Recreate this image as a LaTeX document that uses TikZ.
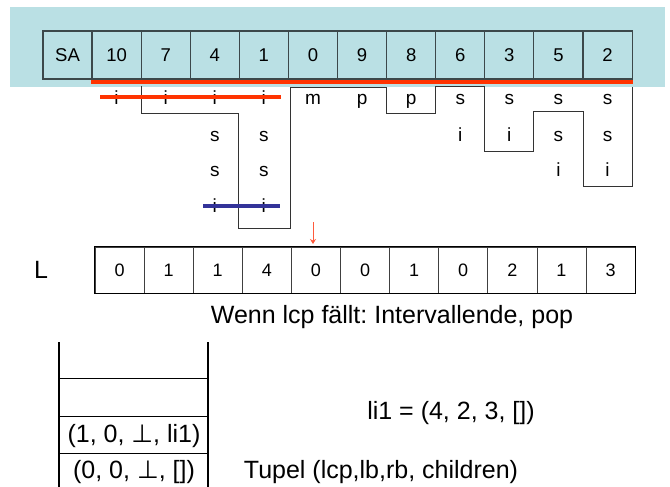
\documentclass[tikz,border=0pt]{standalone}
\usepackage{fontspec}
\setmainfont{Liberation Sans}
\newfontfamily\symfont{DejaVu Sans}
\usetikzlibrary{arrows.meta}
\frenchspacing
\definecolor{panel}{RGB}{186,224,228}
\definecolor{cellline}{RGB}{60,72,74}
\definecolor{hired}{RGB}{255,51,0}
\definecolor{hiblue}{RGB}{51,51,153}
\definecolor{arrowred}{RGB}{255,90,60}
\tikzset{
  sacell/.style={draw=cellline, line width=1.1pt, fill=panel, minimum width=49.1pt,
    minimum height=48pt, inner sep=0pt, font=\fontsize{18.5}{20}\selectfont},
  lcell/.style={draw=black!75, line width=0.8pt, minimum width=49.1pt,
    minimum height=46pt, inner sep=0pt, font=\fontsize{18}{20}\selectfont},
  letter/.style={inner sep=0pt, anchor=base, font=\fontsize{19}{20}\selectfont},
  bigtext/.style={inner sep=0pt, font=\fontsize{25}{30}\selectfont},
  lcpline/.style={draw=black!80, line width=0.9pt},
  stackline/.style={draw=black, line width=1.5pt},
  stackrule/.style={draw=black, line width=1pt},
}
\begin{document}
\begin{tikzpicture}[x=1pt,y=-1pt]
\useasboundingbox (0,0) rectangle (670,487);

% suffix array panel
\fill[panel] (10,7) rectangle (665,87);
\node[sacell] (sa) at (67.5,55) {SA};
\foreach \v [count=\k] in {10,7,4,1,0,9,8,6,3,5,2}
  \node[sacell] (t\k) at ({92+49.1*(\k-0.5)},55) {\v};
\draw[hired, line width=4pt] (t1.south west |- 0,82) -- (t11.south east |- 0,82);

% leading characters of the sorted suffixes (placed on their baselines)
\foreach \c [count=\k] in {i,i,i,i,m,p,p,s,s,s,s}
  \node[letter] (r1c\k) at ({92+49.1*(\k-0.5)},104.5) {\c};
\foreach \k/\c in {3/s,4/s,8/i,9/i,10/s,11/s}
  \node[letter] (r2c\k) at ({92+49.1*(\k-0.5)},141.5) {\c};
\foreach \k/\c in {3/s,4/s,10/i,11/i}
  \node[letter] (r3c\k) at ({92+49.1*(\k-0.5)},176.5) {\c};
\foreach \k/\c in {3/i,4/i}
  \node[letter] (r4c\k) at ({92+49.1*(\k-0.5)},212.5) {\c};

% lcp boundary
\draw[lcpline] (141.1,86) -- (141.1,113) -- (238,113) -- (238,228) -- (290,228)
  -- (290,87) -- (386.6,87) -- (386.6,113) -- (435.7,113) -- (435.7,86)
  -- (484.8,86) -- (484.8,151) -- (533.9,151) -- (533.9,111) -- (583,111)
  -- (583,186) -- (632.1,186) -- (632.1,87);

% current intervals
\draw[hired, line width=4pt] (100,97) -- (281,97);
\draw[hiblue, line width=4pt] (203,206) -- (280,206);

% lcp array
\node[bigtext] (lab) at (41,270) {L};
\foreach \v [count=\k] in {0,1,1,4,0,0,1,0,2,1,3}
  \node[lcell] (l\k) at ({95+49.1*(\k-0.5)},270) {\v};
\draw[black, line width=1.6pt] (l1.north west) rectangle (l11.south east);
\coordinate (arrtop) at (313,222);
\coordinate (arrend) at (313,244);
\draw[arrowred, line width=0.9pt, -{Stealth[length=5pt,width=6pt]}] (arrtop) -- (arrend);

\node[bigtext] (rule) at (392,317) {Wenn lcp fällt: Intervallende, pop};

% stack
\draw[stackline] (59,342) -- (59,487);
\draw[stackline] (208,342) -- (208,487);
\foreach \y in {378,416,453}
  \draw[stackrule] (59,\y) -- (208,\y);
\node[bigtext] (s2) at (134,436) {(1, 0, {\symfont ⊥}, li1)};
\node[bigtext] (s1) at (134,472) {(0, 0, {\symfont ⊥}, [])};

\node[bigtext] (li) at (451,413) {li1 = (4, 2, 3, [])};
\node[bigtext] (tup) at (381,472) {Tupel (lcp,lb,rb, children)};
\end{tikzpicture}
\end{document}
